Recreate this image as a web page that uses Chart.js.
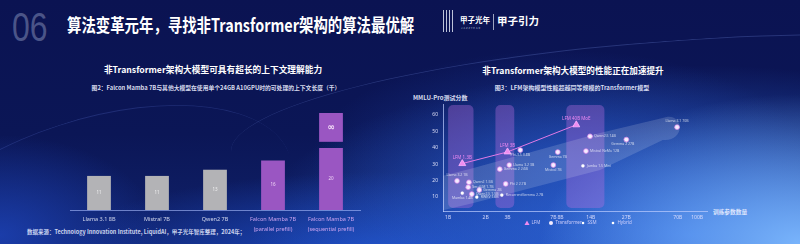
<!DOCTYPE html>
<html><head><meta charset="utf-8">
<script src="https://cdn.jsdelivr.net/npm/chart.js@4"></script>
<style>
html,body{margin:0;padding:0;width:800px;height:244px;overflow:hidden;}
body{position:relative;font-family:"Noto Sans CJK SC","Noto Sans",sans-serif;
background:
 radial-gradient(ellipse 260px 150px at 800px 244px, rgba(125,185,255,0.95), rgba(125,185,255,0) 100%),
 radial-gradient(ellipse 440px 170px at 690px 235px, rgba(48,108,225,0.95), rgba(48,108,225,0) 100%),
 radial-gradient(ellipse 250px 110px at 560px 160px, rgba(35,80,195,0.55), rgba(35,80,195,0) 100%),
 radial-gradient(ellipse 320px 80px at 380px 252px, rgba(30,80,205,0.85), rgba(30,80,205,0) 100%),
 radial-gradient(ellipse 160px 100px at 0px 235px, rgba(30,70,190,0.75), rgba(30,70,190,0) 100%),
 linear-gradient(180deg, #0b1352 0%, #0b1656 55%, #10226c 100%);}
canvas{position:absolute;left:0;top:0;}
.t{position:absolute;white-space:nowrap;color:#fff;font-weight:700;line-height:1;}
.c{transform:translateX(-50%);}
.streak{position:absolute;border-radius:50%;border-top:1px solid rgba(140,170,255,0.22);}
</style></head>
<body>
<div class="streak" style="left:230px;top:40px;width:900px;height:160px;transform:rotate(-4deg);"></div>
<div class="streak" style="left:-120px;top:120px;width:420px;height:200px;border-top-color:rgba(120,150,255,0.18);transform:rotate(-18deg);"></div>
<div class="t" style="left:12px;top:7px;font-family:'Liberation Sans';font-size:40px;font-weight:400;color:rgba(140,150,190,0.5);transform:scaleX(0.8);transform-origin:left;">06</div>
<div class="t" style="left:67px;top:15px;font-size:18px;transform:scaleX(0.8);transform-origin:left;">算法变革元年，寻找非Transformer架构的算法最优解</div>
<div style="position:absolute;left:443px;top:10px;width:12px;height:22px;background:repeating-linear-gradient(90deg,rgba(220,225,240,0.85) 0 1px,transparent 1px 3px);"></div>
<div class="t" style="left:460px;top:16px;font-size:7.5px;">甲子光年</div>
<div class="t" style="left:461px;top:27px;font-size:2.6px;font-weight:400;letter-spacing:1px;color:rgba(220,225,240,0.8);">JAZZYEAR</div>
<div style="position:absolute;left:493px;top:14px;width:1px;height:16px;background:rgba(220,225,240,0.7);"></div>
<div class="t" style="left:497px;top:16px;font-size:10.5px;">甲子引力</div>

<div class="t c" style="left:213px;top:66px;font-size:8.7px;">非Transformer架构大模型可具有超长的上下文理解能力</div>
<div class="t c" style="left:216px;top:85px;font-size:5.8px;color:rgba(235,238,255,0.92);">图2：Falcon Mamba 7B与其他大模型在使用单个24GB A10GPU时的可处理的上下文长度（千）</div>
<div class="t c" style="left:573px;top:66px;font-size:8.6px;">非Transformer架构大模型的性能正在加速提升</div>
<div class="t c" style="left:572px;top:85px;font-size:6px;color:rgba(235,238,255,0.92);">图3：LFM架构模型性能超越同等规模的Transformer模型</div>
<div class="t" style="left:413px;top:95px;font-size:6px;color:rgba(235,238,255,0.92);">MMLU-Pro测试分数</div>
<div class="t" style="left:713px;top:209px;font-size:5.7px;color:rgba(235,238,255,0.92);">训练参数数量</div>
<div class="t" style="left:27px;top:230px;font-size:5.5px;color:rgba(230,235,255,0.88);">数据来源：Technology Innovation Institute, LiquidAI，甲子光年智库整理，2024年；</div>

<canvas id="left" width="800" height="244"></canvas>
<canvas id="right" width="800" height="244"></canvas>
<script>
// ---------- Left chart data ----------
const contextCategories = [['Llama 3.1 8B'],['Mistral 7B'],['Qwen2 7B'],['Falcon Mamba 7B','(parallel prefill)'],['Falcon Mamba 7B','(sequential prefill)']];
const contextValues = [11, 11, 13, 16, 20];
const infinityRange = [null, null, null, null, [22, 31.3]];
const infinityLabel = '∞';

// ---------- Right chart data ----------
const xTickValues = [1, 2, 3, 7, 8, 14, 27, 70, 100];
const xTickLabels = ['1B','2B','3B','7B','8B','14B','27B','70B','100B'];
const yTickValues = [10, 20, 30, 40, 50, 60];

const lfmNames = ['LFM 1.3B', 'LFM 3B', 'LFM 40B MoE'];
const lfmParams = [1.3, 3.0, 10.7];
const lfmScores = [30.4, 37.5, 54.0];

const transformerNames = ['Llama 3.2 1B','Qwen2 1.5B','SmolLM 1.7B','Gemma 2B','Qwen2.5 1.5B','Gemma 2 2.6B','Llama 3.2 3B','Phi-3.5 3.8B','Phi 2 2.7B','Mistral 7B','Gemma 7B','Mistral NeMo 12B','Qwen2.5 14B','Gemma 2 27B','Llama 3.1 70B'];
const transformerParams = [1.18, 1.47, 1.45, 1.78, 1.55, 2.6, 3.1, 3.8, 2.9, 7.0, 7.6, 12.8, 13.8, 27, 69];
const transformerScores = [19.8, 19.0, 16.0, 14.3, 11.8, 27.0, 29.5, 38.6, 18.0, 29.5, 37.4, 38.0, 47.0, 45.0, 52.6];

const ssmNames = ['Mamba 1.4B', 'RWKV 1.6B'];
const ssmParams = [1.3, 1.7];
const ssmScores = [12.4, 10.0];

const hybridNames = ['RecurrentGemma 2.7B', 'Jamba 1.5 Mini'];
const hybridParams = [2.7, 12.1];
const hybridScores = [11.2, 29.0];

const bandStart = [1.0, 2.4, 8.9];
const bandEnd = [1.6, 3.4, 18];
const trendUpperX = [0.91, 1.6, 16.6, 57];
const trendUpperY = [23, 27.7, 49, 58.8];
const trendLowerX = [0.91, 1.6, 16.6, 53];
const trendLowerY = [2, 6.3, 26.5, 44.8];

// ---------- Left chart ----------
const barLabelPlugin = {
  id: 'barLabels',
  afterDatasetsDraw(chart) {
    const ctx = chart.ctx;
    ctx.save();
    ctx.textAlign = 'center'; ctx.textBaseline = 'middle';
    chart.getDatasetMeta(0).data.forEach((bar, i) => {
      ctx.fillStyle = i < 3 ? 'rgba(255,255,255,0.8)' : 'rgba(255,235,255,0.85)';
      ctx.font = '4.5px "Noto Sans"';
      ctx.fillText(String(contextValues[i]), bar.x, (bar.y + bar.base) / 2);
    });
    chart.getDatasetMeta(1).data.forEach((bar, i) => {
      if (!infinityRange[i]) return;
      ctx.fillStyle = 'rgba(255,240,255,0.9)';
      ctx.font = 'bold 9px "DejaVu Sans"';
      ctx.fillText(infinityLabel, bar.x, (bar.y + bar.base) / 2);
    });
    ctx.restore();
  }
};

new Chart(document.getElementById('left'), {
  type: 'bar',
  data: {
    labels: contextCategories,
    datasets: [
      { data: contextValues, grouped: false,
        backgroundColor: ['#b3b3b6','#b3b3b6','#b3b3b6','#9a56c2','#9a56c2'],
        barPercentage: 0.41, categoryPercentage: 1 },
      { data: infinityRange, grouped: false, backgroundColor: '#9a56c2',
        barPercentage: 0.41, categoryPercentage: 1 }
    ]
  },
  options: {
    responsive: false, animation: false, devicePixelRatio: 1,
    layout: { padding: { left: 70, right: 440, top: 100, bottom: 0 } },
    plugins: { legend: { display: false }, tooltip: { enabled: false } },
    scales: {
      x: {
        grid: { display: false, drawTicks: false, tickLength: 0 },
        border: { display: true, color: 'rgba(170,190,255,0.6)', width: 1 },
        ticks: { padding: 5, font: { size: 5.5, family: '"Noto Sans"', lineHeight: 1.7 },
          color: (c) => c.index < 3 ? 'rgba(225,228,245,0.9)' : '#c9a2f0' },
        afterFit: (s) => { s.height = 34; }
      },
      y: { display: false, min: 0, max: 35.5 }
    }
  },
  plugins: [barLabelPlugin]
});

// ---------- Right chart ----------
const pts = (xs, ys) => xs.map((v, i) => ({ x: v, y: ys[i] }));
const labelPos = { 'Llama 3.2 1B':'above', 'Llama 3.1 70B':'above', 'Gemma 2 27B':'belowleft', 'Mistral 7B':'below', 'Gemma 7B':'below', 'Phi-3.5 3.8B':'below', 'Mamba 1.4B':'below', 'LFM 1.3B':'above', 'LFM 3B':'above', 'LFM 40B MoE':'above' };

const scatterPlugin = {
  id: 'scatterDeco',
  beforeDatasetsDraw(chart) {
    const { ctx, chartArea: a, scales: { x, y } } = chart;
    ctx.save();
    ctx.fillStyle = 'rgba(185,110,225,0.36)';
    bandStart.forEach((s, i) => {
      const x0 = x.getPixelForValue(s), x1 = x.getPixelForValue(bandEnd[i]);
      ctx.beginPath();
      ctx.roundRect(x0, a.top + 1, x1 - x0, a.bottom - a.top - 4, 5);
      ctx.fill();
    });
    ctx.beginPath();
    trendUpperX.forEach((v, i) => {
      const px = x.getPixelForValue(v), py = y.getPixelForValue(trendUpperY[i]);
      i ? ctx.lineTo(px, py) : ctx.moveTo(px, py);
    });
    const ux = x.getPixelForValue(trendUpperX[trendUpperX.length - 1]), uy = y.getPixelForValue(trendUpperY[trendUpperY.length - 1]);
    const lx = x.getPixelForValue(trendLowerX[trendLowerX.length - 1]), ly = y.getPixelForValue(trendLowerY[trendLowerY.length - 1]);
    ctx.bezierCurveTo(ux + 18, uy - 2, lx + 22, ly + 2, lx, ly);
    for (let i = trendLowerX.length - 2; i >= 0; i--) {
      ctx.lineTo(x.getPixelForValue(trendLowerX[i]), y.getPixelForValue(trendLowerY[i]));
    }
    ctx.closePath();
    ctx.fillStyle = 'rgba(255,255,255,0.15)';
    ctx.fill();
    ctx.restore();
  },
  afterDatasetsDraw(chart) {
    const ctx = chart.ctx;
    ctx.save();
    const groups = [[0, lfmNames, 'rgba(245,140,245,0.95)', 4.5], [1, transformerNames, 'rgba(255,255,255,0.7)', 3.5], [2, ssmNames, 'rgba(255,255,255,0.7)', 3.5], [3, hybridNames, 'rgba(255,255,255,0.7)', 3.5]];
    groups.forEach(([di, names, color, size]) => {
      ctx.fillStyle = color;
      ctx.font = size + 'px "Noto Sans"';
      chart.getDatasetMeta(di).data.forEach((p, i) => {
        const n = names[i], pos = labelPos[n] || 'right';
        if (pos === 'right') { ctx.textAlign = 'left'; ctx.textBaseline = 'middle'; ctx.fillText(n, p.x + 4, p.y); }
        else if (pos === 'above') { ctx.textAlign = 'center'; ctx.textBaseline = 'bottom'; ctx.fillText(n, p.x, p.y - 4); }
        else if (pos === 'below') { ctx.textAlign = 'center'; ctx.textBaseline = 'top'; ctx.fillText(n, p.x, p.y + 3); }
        else if (pos === 'belowleft') { ctx.textAlign = 'right'; ctx.textBaseline = 'top'; ctx.fillText(n, p.x + 8, p.y + 3); }
      });
    });
    const lx = [527, 551, 583, 613], ly = 223;
    ctx.font = '4.5px "Noto Sans"'; ctx.textBaseline = 'middle'; ctx.textAlign = 'left';
    chart.data.datasets.forEach((d, i) => {
      ctx.fillStyle = d.backgroundColor;
      ctx.beginPath();
      if (d.pointStyle === 'triangle') { ctx.moveTo(lx[i], ly - 2.5); ctx.lineTo(lx[i] + 2.5, ly + 2); ctx.lineTo(lx[i] - 2.5, ly + 2); ctx.closePath(); }
      else ctx.arc(lx[i], ly, i === 1 ? 2 : 1.3, 0, Math.PI * 2);
      ctx.fill();
      ctx.fillStyle = 'rgba(220,215,255,0.9)';
      ctx.fillText(d.label, lx[i] + 4.5, ly);
    });
    ctx.restore();
  }
};

new Chart(document.getElementById('right'), {
  type: 'scatter',
  data: {
    datasets: [
      { label: 'LFM', data: pts(lfmParams, lfmScores), showLine: true, borderColor: '#e27ae6', borderWidth: 1,
        backgroundColor: '#f08cf0', pointStyle: 'triangle', pointRadius: 4, pointBorderColor: 'rgba(255,180,255,0.8)', pointBorderWidth: 1 },
      { label: 'Transformer', data: pts(transformerParams, transformerScores), backgroundColor: '#f4ecff',
        borderColor: 'rgba(220,140,235,0.75)', pointRadius: 2.4, pointBorderWidth: 1 },
      { label: 'SSM', data: pts(ssmParams, ssmScores), backgroundColor: '#ffffff', borderColor: 'rgba(255,255,255,0.4)', pointRadius: 1.6, pointBorderWidth: 0.5 },
      { label: 'Hybrid', data: pts(hybridParams, hybridScores), backgroundColor: '#ffffff', borderColor: 'rgba(255,255,255,0.4)', pointRadius: 1.6, pointBorderWidth: 0.5 }
    ]
  },
  options: {
    responsive: false, animation: false, devicePixelRatio: 1,
    layout: { padding: { left: 423, right: 93, top: 104, bottom: 0 } },
    plugins: { legend: { display: false }, tooltip: { enabled: false } },
    scales: {
      x: {
        type: 'logarithmic', min: 0.91, max: 120,
        grid: { display: false, drawTicks: false, tickLength: 0 },
        border: { display: true, color: 'rgba(190,205,255,0.7)', width: 1 },
        afterBuildTicks: (s) => { s.ticks = xTickValues.map(v => ({ value: v })); },
        ticks: { autoSkip: false, maxRotation: 0, padding: 4, color: 'rgba(225,225,255,0.9)', font: { size: 5, family: '"Noto Sans"' },
          callback: (v) => { const i = xTickValues.indexOf(v); return i >= 0 ? xTickLabels[i] : ''; } },
        afterFit: (s) => { s.height = 33; }
      },
      y: {
        min: 1.5, max: 66.7,
        grid: { display: false, drawTicks: false, tickLength: 0 },
        border: { display: true, color: 'rgba(190,205,255,0.7)', width: 1 },
        afterBuildTicks: (s) => { s.ticks = yTickValues.map(v => ({ value: v })); },
        ticks: { padding: 5, color: 'rgba(235,235,255,0.9)', font: { size: 5, family: '"Noto Sans"' } },
        afterFit: (s) => { s.width = 20; }
      }
    }
  },
  plugins: [scatterPlugin]
});
</script>
</body></html>
